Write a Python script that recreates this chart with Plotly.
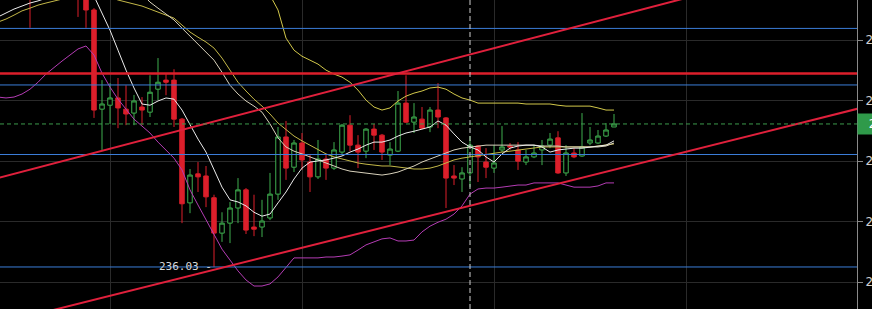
import plotly.graph_objects as go

# candle index (hourly bars)
idx = list(range(78))

opens = [245.85, 245.52, 246.02, 245.68, 245.52, 245.12, 245.68, 245.25, 245.85, 246.35,
         245.85, 245.12, 244.53, 241.25, 241.38, 241.62, 241.25, 241.12, 241.32, 241.15,
         241.91, 242.21, 242.21, 240.92, 238.15, 239.11, 239.04, 238.32, 237.15, 237.48,
         237.98, 238.58, 237.35, 237.35, 237.65, 238.44, 240.33, 239.33, 240.13, 239.50,
         239.01, 239.60, 239.30, 239.83, 240.72, 240.06, 239.86, 240.59, 240.39, 239.73,
         239.86, 241.45, 240.82, 240.92, 240.66, 241.22, 240.96, 239.04, 238.94, 239.14,
         240.03, 239.50, 239.30, 239.90, 240.03, 239.90, 239.50, 239.67, 239.90, 240.06,
         240.30, 239.14, 239.80, 239.70, 240.13, 240.13, 240.36, 240.66]
highs = [246.18, 246.35, 246.51, 246.44, 245.68, 246.02, 246.18, 246.11, 246.68, 246.84,
         246.02, 245.35, 244.59, 242.21, 242.11, 242.28, 242.04, 241.72, 241.65, 242.37,
         242.94, 242.44, 242.57, 240.96, 239.27, 239.50, 239.37, 238.42, 237.84, 238.18,
         238.97, 238.64, 238.42, 238.25, 239.14, 240.66, 240.86, 240.23, 240.46, 239.73,
         240.23, 239.73, 240.16, 240.76, 241.05, 240.39, 240.62, 240.76, 240.43, 240.16,
         241.85, 242.37, 241.45, 241.32, 241.32, 242.11, 240.99, 239.40, 239.33, 240.36,
         240.06, 239.96, 240.06, 240.69, 240.13, 240.16, 239.90, 240.06, 240.23, 240.46,
         240.52, 240.06, 239.96, 241.12, 240.66, 240.56, 240.79, 241.09]
lows = [245.19, 245.35, 245.45, 245.52, 243.94, 244.96, 245.06, 244.99, 245.58, 245.68,
        244.30, 243.94, 240.96, 239.90, 240.76, 240.62, 240.72, 240.72, 240.72, 240.99,
        241.55, 241.71, 240.66, 237.48, 237.81, 238.51, 238.01, 236.03, 236.86, 236.82,
        237.48, 237.12, 237.05, 237.02, 237.58, 238.25, 238.91, 239.17, 239.24, 238.51,
        238.94, 238.91, 239.24, 239.73, 239.86, 239.30, 239.63, 239.90, 239.57, 239.40,
        239.83, 240.79, 240.46, 240.59, 240.49, 240.62, 237.98, 238.74, 238.51, 238.67,
        238.84, 238.97, 239.14, 239.83, 239.90, 239.24, 239.40, 239.63, 239.40, 239.96,
        239.11, 239.04, 239.63, 239.67, 240.06, 240.10, 240.33, 240.66]
closes = [245.52, 246.02, 245.68, 246.18, 245.02, 245.68, 245.25, 245.85, 246.35, 245.85,
          245.12, 244.53, 241.22, 241.42, 241.62, 241.29, 241.09, 241.52, 241.22, 241.81,
          242.14, 242.14, 240.92, 238.12, 239.07, 239.01, 238.35, 237.15, 237.48, 237.98,
          238.58, 237.25, 237.28, 237.55, 238.44, 240.33, 239.30, 240.13, 239.57, 239.01,
          239.60, 239.30, 239.90, 240.72, 240.06, 239.83, 240.59, 240.39, 239.83, 239.93,
          241.45, 240.82, 240.99, 240.62, 241.22, 240.99, 238.97, 238.97, 239.14, 240.06,
          239.67, 239.33, 239.47, 240.00, 240.00, 239.53, 239.67, 239.80, 240.03, 240.26,
          239.14, 239.80, 239.67, 240.00, 240.23, 240.36, 240.56, 240.76]

boll_upper = [None] * 33 + [
    246.18, 245.02, 244.53, 243.60, 243.20, 243.00, 242.87, 242.74, 242.54, 242.41,
    242.31, 242.14, 241.88, 241.55, 241.32, 241.22, 241.29, 241.52, 241.68, 241.78,
    241.85, 241.95, 241.98, 241.91, 241.75, 241.62, 241.55, 241.45, 241.45, 241.45,
    241.45, 241.45, 241.45, 241.42, 241.42, 241.42, 241.42, 241.38, 241.35, 241.35,
    241.35, 241.35, 241.29, 241.22, 241.22]
boll_mid = [244.13, 244.23, 244.36, 244.50, 244.59, 244.69, 244.76, 244.83, 244.89, 244.99,
            245.06, 245.09, 245.09, 245.02, 244.96, 244.86, 244.79, 244.73, 244.66, 244.56,
            244.46, 244.36, 244.26, 244.03, 243.80, 243.63, 243.47, 243.27, 242.94, 242.54,
            242.14, 241.85, 241.58, 241.35, 241.09, 240.79, 240.59, 240.36, 240.20, 240.06,
            239.90, 239.77, 239.67, 239.60, 239.53, 239.47, 239.43, 239.40, 239.37, 239.37,
            239.33, 239.30, 239.27, 239.27, 239.30, 239.37, 239.47, 239.57, 239.63, 239.67,
            239.73, 239.77, 239.80, 239.83, 239.86, 239.90, 239.93, 239.96, 240.00, 240.00,
            240.00, 240.00, 240.00, 240.00, 240.00, 240.03, 240.06, 240.10]
boll_lower = [241.65, 241.62, 241.65, 241.75, 241.91, 242.14, 242.41, 242.64, 242.84, 243.04,
              243.24, 243.34, 243.04, 242.44, 241.98, 241.58, 241.25, 240.92, 240.69, 240.46,
              240.16, 239.90, 239.63, 239.24, 238.58, 238.08, 237.58, 237.09, 236.62, 236.26,
              235.90, 235.60, 235.40, 235.40, 235.47, 235.70, 236.00, 236.33, 236.33, 236.33,
              236.33, 236.36, 236.36, 236.39, 236.43, 236.59, 236.76, 236.86, 236.96, 236.99,
              236.89, 236.89, 236.92, 237.19, 237.38, 237.51, 237.61, 237.78, 238.05, 238.44,
              238.61, 238.64, 238.64, 238.67, 238.71, 238.74, 238.74, 238.81, 238.81, 238.81,
              238.81, 238.74, 238.67, 238.67, 238.67, 238.71, 238.81, 238.81]
ma_fast = [244.30, 244.43, 244.56, 244.66, 244.76, 244.83, 244.92, 245.02, 245.12, 245.19,
           245.19, 245.12, 244.99, 244.43, 243.86, 243.20, 242.54, 241.95, 241.42, 241.38,
           241.52, 241.62, 241.58, 241.22, 240.72, 240.26, 239.83, 239.24, 238.67, 238.25,
           238.18, 238.05, 237.84, 237.71, 237.78, 238.15, 238.51, 238.94, 239.30, 239.50,
           239.53, 239.57, 239.63, 239.70, 239.83, 239.93, 240.06, 240.16, 240.16, 240.23,
           240.36, 240.46, 240.52, 240.59, 240.66, 240.86, 240.72, 240.43, 240.16, 240.00,
           239.90, 239.67, 239.50, 239.77, 239.96, 240.03, 240.06, 240.06, 240.00, 239.83,
           239.90, 239.93, 239.96, 239.96, 240.00, 240.03, 240.06, 240.20]
ma_slow = [None] * 17 + [
    245.35, 245.06, 244.79, 244.59, 244.40, 244.20, 243.93, 243.67, 243.40, 243.14,
    242.87, 242.47, 242.04, 241.75, 241.52, 241.35, 241.15, 240.76, 240.30, 240.00,
    239.86, 239.77, 239.67, 239.57, 239.47, 239.37, 239.27, 239.20, 239.17, 239.14,
    239.11, 239.07, 239.11, 239.17, 239.27, 239.37, 239.50, 239.60, 239.70, 239.80,
    239.90, 239.96, 240.00, 240.03, 240.06, 240.06, 240.06, 240.06, 240.06, 240.06,
    240.06, 240.03, 240.03, 240.03, 240.00, 240.00, 240.00, 240.00, 240.00, 240.03,
    240.13]

# drawn levels
blue_levels = [243.92, 242.05, 239.75, 236.03]
red_level = 242.43
upper_channel = [(0, 238.97), (108, 246.45)]
lower_channel = [(0, 234.15), (108, 241.30)]
grid_levels = [235.53, 237.53, 239.53, 241.53, 243.53]
low_mark = (27, 236.03)
cross_idx = 59
last_price = closes[-1]

RED = "#dc1f2b"
GREEN = "#3fae4f"

fig = go.Figure()
fig.add_trace(go.Candlestick(
    x=idx, open=opens, high=highs, low=lows, close=closes,
    increasing=dict(line=dict(color=GREEN, width=1), fillcolor="#000000"),
    decreasing=dict(line=dict(color=RED, width=1), fillcolor=RED),
    showlegend=False, hoverinfo="skip"))

line_specs = [
    (boll_upper, "#d2c84a"),
    (boll_mid, "#c4b848"),
    (boll_lower, "#b43cb4"),
    (ma_slow, "#d9d2bc"),
    (ma_fast, "#ececec"),
]
for vals, col in line_specs:
    fig.add_trace(go.Scatter(x=idx, y=vals, mode="lines",
                             line=dict(color=col, width=1),
                             showlegend=False, hoverinfo="skip"))

shapes = []
for lv in blue_levels:
    shapes.append(dict(type="line", xref="paper", x0=0, x1=1, yref="y", y0=lv, y1=lv,
                       line=dict(color="#3b7dd8", width=1), layer="above"))
shapes.append(dict(type="line", xref="paper", x0=0, x1=1, yref="y", y0=red_level, y1=red_level,
                   line=dict(color=RED, width=2.5), layer="above"))
for (a, b) in (upper_channel, lower_channel):
    shapes.append(dict(type="line", xref="x", yref="y", x0=a[0], y0=a[1], x1=b[0], y1=b[1],
                       line=dict(color="#e0203c", width=2), layer="above"))
shapes.append(dict(type="line", xref="paper", x0=0, x1=1, yref="y", y0=last_price, y1=last_price,
                   line=dict(color="#3c9a4c", width=1, dash="4px,3px"), layer="above"))
shapes.append(dict(type="line", xref="x", x0=cross_idx, x1=cross_idx, yref="paper", y0=0, y1=1,
                   line=dict(color="#cfcfcf", width=1, dash="5px,3px"), layer="above"))

annotations = [
    dict(x=low_mark[0], y=low_mark[1], xref="x", yref="y", text="%.2f -" % low_mark[1],
         showarrow=False, xanchor="right", yanchor="middle", xshift=0,
         font=dict(family="DejaVu Sans Mono", size=11, color="#d8d8d8")),
    dict(x=1, y=last_price, xref="paper", yref="y", text="&nbsp;&nbsp;%.2f" % last_price,
         showarrow=False, xanchor="left", yanchor="middle", bgcolor="#2f9a4a",
         borderpad=3, font=dict(family="DejaVu Sans", size=12, color="#ffffff")),
]

fig.update_layout(
    width=872, height=309,
    margin=dict(l=0, r=15, t=0, b=0),
    paper_bgcolor="#000000", plot_bgcolor="#000000",
    shapes=shapes, annotations=annotations,
    showlegend=False, boxgap=0.2,
    xaxis=dict(range=[0.25, 107.375], showticklabels=False, showgrid=True,
               gridcolor="#2a2a2a", gridwidth=1, tick0=14, dtick=24, zeroline=False,
               rangeslider=dict(visible=False), automargin=False, showline=False),
    yaxis=dict(side="right", range=[234.64, 244.86], tickvals=grid_levels,
               ticktext=["%.2f" % v for v in grid_levels],
               showgrid=True, gridcolor="#2a2a2a", gridwidth=1, zeroline=False,
               showline=True, linecolor="#8a8a8a", linewidth=1,
               ticks="outside", ticklen=5, tickcolor="#8a8a8a",
               tickfont=dict(family="DejaVu Sans", size=12, color="#d0d0d0"),
               automargin=False),
)

fig.write_html("out.html")
